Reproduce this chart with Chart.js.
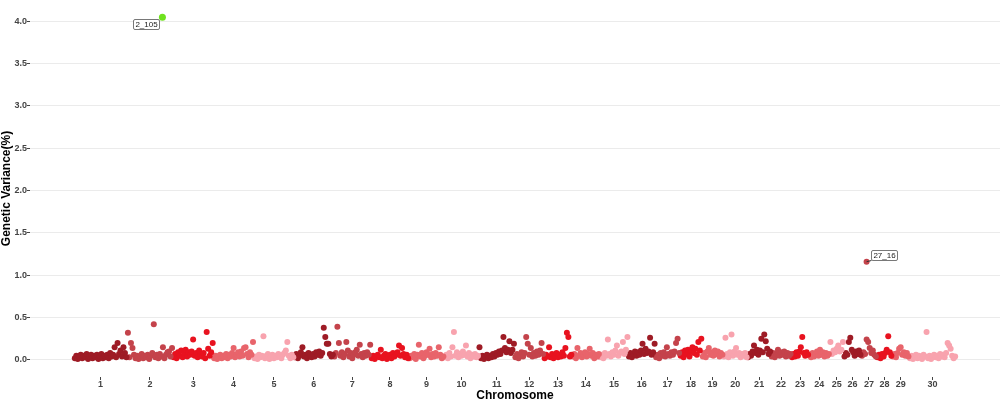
<!DOCTYPE html>
<html>
<head>
<meta charset="utf-8">
<title>Genetic Variance by Chromosome</title>
<script src="https://cdn.jsdelivr.net/npm/chart.js@4.4.0/dist/chart.umd.min.js"></script>
<style>
  html, body { margin: 0; padding: 0; background: #fff; }
  #wrap { width: 1000px; height: 400px; }
</style>
</head>
<body>
<div id="wrap"><canvas id="manhattan"></canvas></div>
<script>
// chromosome names and lengths (Mb)
const chromosomes = ['1','2','3','4','5','6','7','8','9','10','11','12','13','14','15',
  '16','17','18','19','20','21','22','23','24','25','26','27','28','29','30'];
const chromLengths = [158, 136, 121, 120, 120, 118, 111, 113, 105, 103, 107, 87, 84, 82, 85,
  81, 73, 66, 63, 72, 70, 61, 52, 62, 42, 52, 46, 46, 51, 139];

// genetic variance (%) per window, in order along each chromosome
const chr1 = [0.02,0.05,0.01,0.04,0.06,0.02,0.05,0.03,0.07,0.01,0.04,0.06,0.02,0.05,0.03,0.06,0.01,0.04,0.07,0.02,0.05,0.03,0.06,0.02,0.08,0.04,0.06,0.15,0.03,0.20,0.07,0.11,0.04,0.15,0.08,0.03];
const chr2 = [0.32,0.03,0.20,0.14,0.06,0.02,0.05,0.01,0.04,0.07,0.02,0.05,0.03,0.06,0.01,0.05,0.08,0.42,0.03,0.06,0.02,0.07,0.04,0.15,0.02,0.06,0.09,0.10,0.04,0.14];
const chr3 = [0.03,0.07,0.02,0.09,0.05,0.11,0.03,0.08,0.12,0.04,0.09,0.06,0.10,0.24,0.05,0.08,0.03,0.11,0.06,0.04,0.08,0.02,0.33,0.13,0.05,0.09,0.20];
const chr4 = [0.02,0.05,0.01,0.04,0.06,0.02,0.05,0.03,0.07,0.02,0.06,0.04,0.08,0.14,0.03,0.06,0.09,0.04,0.10,0.05,0.14,0.15,0.07,0.03,0.09,0.06,0.21];
const chr5 = [0.02,0.04,0.01,0.06,0.03,0.05,0.28,0.02,0.05,0.07,0.01,0.04,0.06,0.02,0.05,0.03,0.07,0.04,0.02,0.06,0.08,0.11,0.21,0.05,0.02,0.06,0.03];
const chr6 = [0.03,0.07,0.02,0.05,0.09,0.15,0.04,0.06,0.02,0.08,0.05,0.03,0.07,0.04,0.09,0.06,0.10,0.05,0.08,0.38,0.27,0.19,0.19,0.07,0.04,0.06];
const chr7 = [0.04,0.08,0.39,0.20,0.05,0.09,0.03,0.07,0.21,0.11,0.04,0.08,0.02,0.06,0.09,0.12,0.05,0.18,0.07,0.03,0.08,0.05,0.09,0.06,0.18];
const chr8 = [0.02,0.05,0.01,0.04,0.06,0.03,0.12,0.02,0.05,0.07,0.01,0.04,0.06,0.02,0.08,0.04,0.06,0.09,0.17,0.05,0.14,0.07,0.03,0.06,0.02];
const chr9 = [0.02,0.05,0.03,0.07,0.01,0.06,0.18,0.04,0.08,0.02,0.05,0.09,0.06,0.13,0.03,0.07,0.04,0.08,0.05,0.15,0.06,0.02,0.04];
const chr10 = [0.03,0.06,0.02,0.08,0.04,0.15,0.33,0.05,0.09,0.03,0.07,0.05,0.10,0.06,0.17,0.04,0.08,0.02,0.06,0.04,0.07,0.03,0.05];
const chr11 = [0.15,0.02,0.05,0.01,0.04,0.06,0.02,0.05,0.03,0.07,0.04,0.08,0.06,0.10,0.07,0.11,0.27,0.14,0.09,0.12,0.22,0.08,0.12,0.19];
const chr12 = [0.03,0.07,0.02,0.05,0.09,0.04,0.08,0.27,0.19,0.06,0.14,0.04,0.08,0.05,0.10,0.06,0.11,0.20,0.07];
const chr13 = [0.02,0.06,0.04,0.15,0.03,0.07,0.02,0.05,0.08,0.03,0.06,0.04,0.09,0.05,0.14,0.32,0.27,0.04,0.06];
const chr14 = [0.04,0.07,0.02,0.14,0.05,0.08,0.03,0.06,0.09,0.04,0.07,0.13,0.05,0.08,0.02,0.06,0.04,0.07];
const chr15 = [0.03,0.06,0.02,0.08,0.05,0.24,0.07,0.04,0.09,0.06,0.11,0.17,0.05,0.08,0.10,0.21,0.07,0.12,0.27];
const chr16 = [0.04,0.08,0.03,0.07,0.10,0.05,0.09,0.06,0.11,0.19,0.07,0.13,0.08,0.10,0.26,0.06,0.09,0.19];
const chr17 = [0.03,0.06,0.02,0.08,0.05,0.09,0.04,0.15,0.07,0.05,0.09,0.06,0.10,0.20,0.25,0.08];
const chr18 = [0.05,0.09,0.03,0.11,0.07,0.12,0.04,0.10,0.15,0.08,0.13,0.06,0.21,0.11,0.25];
const chr19 = [0.04,0.08,0.03,0.10,0.14,0.06,0.09,0.05,0.11,0.07,0.10,0.04,0.08,0.06];
const chr20 = [0.04,0.26,0.07,0.03,0.09,0.30,0.05,0.10,0.14,0.06,0.08,0.03,0.07,0.05,0.08,0.03];
const chr21 = [0.03,0.07,0.05,0.10,0.17,0.08,0.12,0.06,0.11,0.25,0.09,0.30,0.22,0.13,0.07,0.10];
const chr22 = [0.04,0.08,0.03,0.07,0.12,0.05,0.09,0.06,0.10,0.04,0.08,0.05,0.07];
const chr23 = [0.03,0.07,0.04,0.09,0.05,0.10,0.15,0.27,0.08,0.05,0.09,0.06];
const chr24 = [0.05,0.03,0.08,0.04,0.07,0.10,0.05,0.12,0.06,0.09,0.04,0.08,0.05,0.07];
const chr25 = [0.21,0.07,0.11,0.09,0.13,0.17,0.10,0.12,0.21];
const chr26 = [0.04,0.08,0.06,0.21,0.26,0.12,0.09,0.05,0.10,0.07,0.11,0.06];
const chr27 = [0.05,0.09,0.07,0.24,0.21,0.14,0.08,0.11,0.06,0.04];
const chr28 = [0.03,0.06,0.02,0.07,0.04,0.08,0.12,0.28,0.09,0.05];
const chr29 = [0.04,0.07,0.03,0.08,0.13,0.15,0.06,0.09,0.05,0.08,0.04];
const chr30 = [0.02,0.05,0.01,0.04,0.06,0.02,0.05,0.03,0.01,0.06,0.04,0.33,0.02,0.05,0.01,0.04,0.06,0.03,0.05,0.02,0.07,0.04,0.06,0.03,0.08,0.20,0.17,0.13,0.05,0.02,0.04];
const chromValues = [chr1, chr2, chr3, chr4, chr5, chr6, chr7, chr8, chr9, chr10, chr11, chr12, chr13, chr14, chr15,
  chr16, chr17, chr18, chr19, chr20, chr21, chr22, chr23, chr24, chr25, chr26, chr27, chr28, chr29, chr30];

// labelled windows
const highlightLabels = ['2_105', '27_16'];
const highlightChrom = [2, 27];
const highlightPos = [105, 16];
const highlightValues = [4.05, 1.16];

// y axis
const yGrid = [0, 0.25, 0.5, 0.75, 1, 1.25, 1.5, 1.75, 2, 2.25, 2.5, 2.75, 3, 3.25, 3.5, 3.75, 4, 4.25];
const yMajor = [0, 0.5, 1, 1.5, 2, 2.5, 3, 3.5, 4];
const yTickLabels = ['0.0', '0.5', '1.0', '1.5', '2.0', '2.5', '3.0', '3.5', '4.0'];

const palette = ['#9E1B25', '#C4434B', '#E8121F', '#E8646B', '#F8A3AE'];
const FONT = '"Liberation Sans", Arial, sans-serif';

const offsets = [];
let total = 0;
chromLengths.forEach(len => { offsets.push(total); total += len; });
const pad = total * 0.05;

function chromPoints(idx) {
  const vals = chromValues[idx];
  const step = chromLengths[idx] / vals.length;
  return vals.map((v, i) => ({ x: offsets[idx] + (i + 0.5) * step, y: v }));
}

const datasets = chromosomes.map((name, idx) => ({
  label: 'Chr ' + name,
  data: chromPoints(idx),
  backgroundColor: palette[idx % palette.length],
  pointRadius: 3,
  borderWidth: 0
}));

datasets.push({
  label: 'highlight',
  data: highlightLabels.map((t, i) => ({ x: offsets[highlightChrom[i] - 1] + highlightPos[i], y: highlightValues[i] })),
  backgroundColor: ['#6FE21E', palette[(highlightChrom[1] - 1) % palette.length]],
  pointRadius: [3.5, 3],
  borderWidth: 0
});

// ggrepel-style boxed labels
const labelOffsets = [[-16, 6.5], [17.5, -7]];
const labelSegment = [false, true];

const labelBoxes = {
  id: 'labelBoxes',
  afterDatasetsDraw(chart) {
    const { ctx, scales: { x, y } } = chart;
    ctx.save();
    ctx.font = '8px ' + FONT;
    ctx.textAlign = 'center';
    ctx.textBaseline = 'middle';
    highlightLabels.forEach((text, i) => {
      const px = x.getPixelForValue(offsets[highlightChrom[i] - 1] + highlightPos[i]);
      const py = y.getPixelForValue(highlightValues[i]);
      const cx = px + labelOffsets[i][0];
      const cy = py + labelOffsets[i][1];
      const w = Math.round(ctx.measureText(text).width + 4);
      const h = 10;
      const bx = Math.round(cx - w / 2) + 0.5;
      const by = Math.round(cy - h / 2) + 0.5;
      if (labelSegment[i]) {
        ctx.strokeStyle = '#333';
        ctx.lineWidth = 1;
        ctx.beginPath();
        ctx.moveTo(px, py);
        ctx.lineTo(bx, by + h);
        ctx.stroke();
      }
      ctx.fillStyle = '#fff';
      ctx.strokeStyle = '#555';
      ctx.lineWidth = 0.8;
      ctx.beginPath();
      ctx.roundRect(bx, by, w, h, 1.5);
      ctx.fill();
      ctx.stroke();
      ctx.fillStyle = '#222';
      ctx.fillText(text, bx + w / 2, by + h / 2 + 0.5);
    });
    ctx.restore();
  }
};

new Chart(document.getElementById('manhattan'), {
  type: 'scatter',
  data: { datasets: datasets },
  options: {
    responsive: true,
    maintainAspectRatio: false,
    animation: false,
    events: [],
    layout: { padding: 0, autoPadding: false },
    plugins: {
      legend: { display: false },
      tooltip: { enabled: false }
    },
    scales: {
      x: {
        type: 'linear',
        min: -pad,
        max: total + pad,
        afterFit(scale) { scale.height = 23; },
        afterBuildTicks(scale) {
          scale.ticks = chromosomes.map((c, i) => ({ value: offsets[i] + chromLengths[i] / 2 }));
        },
        ticks: {
          autoSkip: false,
          maxRotation: 0,
          padding: -1,
          color: '#444',
          font: { family: FONT, size: 9, weight: 'bold' },
          callback: (v, i) => chromosomes[i]
        },
        grid: { drawOnChartArea: false, tickLength: 3, tickColor: '#444' },
        border: { display: false },
        title: {
          display: true,
          text: 'Chromosome',
          color: '#000',
          font: { family: FONT, size: 12, weight: 'bold', lineHeight: 1 },
          padding: { top: 0, bottom: -1.5 }
        }
      },
      y: {
        min: -0.2025,
        max: 4.2525,
        afterFit(scale) {
          scale.width = 30;
          scale.paddingTop = 0;
          scale.paddingBottom = 0;
        },
        afterBuildTicks(scale) {
          scale.ticks = yGrid.map(v => ({ value: v }));
        },
        ticks: {
          padding: 0,
          color: '#444',
          font: { family: FONT, size: 9, weight: 'bold' },
          callback: (v) => {
            const k = yMajor.indexOf(v);
            return k >= 0 ? yTickLabels[k] : null;
          }
        },
        grid: {
          tickLength: 3,
          color: (c) => (c.tick && yMajor.includes(c.tick.value)) ? '#EBEBEB' : '#F4F4F4',
          tickColor: (c) => (c.tick && yMajor.includes(c.tick.value)) ? '#444' : 'rgba(0,0,0,0)'
        },
        border: { display: false },
        title: {
          display: true,
          text: 'Genetic Variance(%)',
          color: '#000',
          font: { family: FONT, size: 12, weight: 'bold', lineHeight: 1 },
          padding: { top: 1, bottom: 0 }
        }
      }
    }
  },
  plugins: [labelBoxes]
});
</script>
</body>
</html>
